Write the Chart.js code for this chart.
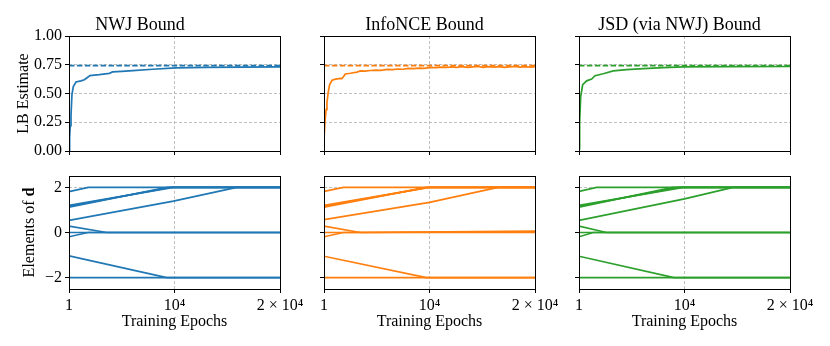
<!DOCTYPE html>
<html>
<head>
<meta charset="utf-8">
<script src="https://cdn.jsdelivr.net/npm/chart.js@4.4.1/dist/chart.umd.min.js"></script>
<style>
  html, body { margin: 0; padding: 0; background: #fff; }
  #wrap { position: relative; width: 830px; height: 346px; }
  #wrap canvas { position: absolute; left: 0; top: 0; }
</style>
</head>
<body>
<div id="wrap">
  <canvas id="top0" width="830" height="346"></canvas>
  <canvas id="top1" width="830" height="346"></canvas>
  <canvas id="top2" width="830" height="346"></canvas>
  <canvas id="bot0" width="830" height="346"></canvas>
  <canvas id="bot1" width="830" height="346"></canvas>
  <canvas id="bot2" width="830" height="346"></canvas>
</div>
<script>
// ---- data ----
const panelTitles = ["NWJ Bound", "InfoNCE Bound", "JSD (via NWJ) Bound"];
const panelColors = ["#1f77b4", "#ff7f0e", "#2ca02c"];

const xTicks = [1, 10000, 20000];
const xTickLabels = ["1", "10⁴", "2 × 10⁴"];
const lbTicks = [0, 0.25, 0.5, 0.75, 1.0];
const lbTickLabels = ["0.00", "0.25", "0.50", "0.75", "1.00"];
const dTicks = [-2, 0, 2];
const dTickLabels = ["−2", "0", "2"];

const trueMI = 0.743;

const nwjEpochs = [1, 60, 120, 190, 280, 410, 660, 1140, 1450, 1680, 1990, 2400, 2870, 3820, 4130, 5000, 6040, 7930, 10140, 13000, 16500, 20000];
const nwjLB = [0.0, 0.12, 0.22, 0.31, 0.49, 0.56, 0.60, 0.61, 0.62, 0.635, 0.655, 0.66, 0.664, 0.675, 0.688, 0.693, 0.699, 0.711, 0.722, 0.727, 0.730, 0.731];

const infoEpochs = [1, 100, 200, 280, 400, 530, 760, 1100, 1550, 1700,
  1860, 2020, 2500, 3130, 3440, 3900, 4400, 4900, 5400, 6000,
  6500, 7000, 7500, 8000, 8500, 9000, 9500, 10100, 10600, 11100,
  11600, 12100, 12600, 13100, 13600, 14100, 14600, 15100, 15600, 16100,
  16600, 17100, 17600, 18100, 18600, 19100, 19600, 20000];
const infoLB = [0.11, 0.26, 0.36, 0.42, 0.51, 0.576, 0.615, 0.625, 0.632, 0.630,
  0.648, 0.670, 0.676, 0.686, 0.697, 0.694, 0.700, 0.703, 0.701, 0.709,
  0.707, 0.713, 0.711, 0.718, 0.716, 0.721, 0.719, 0.727, 0.724, 0.730,
  0.726, 0.732, 0.728, 0.733, 0.727, 0.731, 0.735, 0.728, 0.733, 0.729,
  0.734, 0.728, 0.732, 0.735, 0.729, 0.733, 0.730, 0.734];

const jsdEpochs = [1, 60, 160, 350, 730, 1200, 1520, 2300, 3250, 4500, 6100, 8000, 9900, 14000, 20000];
const jsdLB = [0.02, 0.25, 0.47, 0.576, 0.61, 0.626, 0.655, 0.672, 0.696, 0.707, 0.717, 0.725, 0.731, 0.734, 0.735];

// elements of d: one breakpoint list per element
const nwjDEpochs = [[1, 1830, 20000], [1, 9300, 20000], [1, 9600, 20000], [1, 9900, 20000],
  [1, 9900, 15900, 20000], [1, 3570, 20000], [1, 1800, 20000], [1, 20000], [1, 9260, 20000], [1, 20000]];
const nwjDValues = [[1.81, 2, 2], [1.12, 2, 2], [1.16, 2, 2], [1.20, 2, 2],
  [0.54, 1.39, 2, 2], [0.28, 0, 0], [-0.19, 0, 0], [0, 0], [-1.03, -2, -2], [-2, -2]];

const infoDEpochs = [[1, 1850, 20000], [1, 9700, 20000], [1, 9850, 20000], [1, 10000, 20000],
  [1, 10000, 16500, 20000], [1, 3430, 20000], [1, 1850, 20000], [1, 20000], [1, 9700, 20000], [1, 20000]];
const infoDValues = [[1.82, 2, 2], [1.12, 2, 2], [1.16, 2, 2], [1.20, 2, 2],
  [0.57, 1.33, 2, 2], [0.28, 0, 0.06], [-0.19, 0, 0.03], [0, 0], [-1.05, -2, -2], [-2, -2]];

const jsdDEpochs = [[1, 1670, 20000], [1, 8900, 20000], [1, 9400, 20000], [1, 9900, 20000],
  [1, 10000, 14600, 20000], [1, 2600, 20000], [1, 1350, 20000], [1, 20000], [1, 9000, 20000], [1, 20000]];
const jsdDValues = [[1.82, 2, 2], [1.12, 2, 2], [1.16, 2, 2], [1.20, 2, 2],
  [0.54, 1.49, 2, 2], [0.28, 0, 0], [-0.19, 0, 0], [0, 0], [-1.05, -2, -2], [-2, -2]];

// ---- layout ----
const W = 830, H = 346;
const plotLeft = [69, 324, 579];
const plotRight = [280, 535, 790];
const rowTop = [36, 176];
const rowBottom = [151, 289];
const FONT = "'Liberation Serif', 'DejaVu Serif', serif";

Chart.defaults.font.family = FONT;
Chart.defaults.font.size = 16;
Chart.defaults.color = "#000";

// matplotlib style box round the axes
const framePlugin = {
  id: "frame",
  afterDatasetsDraw(chart) {
    const { ctx, chartArea: a } = chart;
    ctx.save();
    ctx.strokeStyle = "#000";
    ctx.lineWidth = 1;
    ctx.strokeRect(Math.round(a.left) + 0.5, Math.round(a.top) + 0.5,
      Math.round(a.right - a.left), Math.round(a.bottom - a.top));
    ctx.restore();
  }
};

// "Elements of d" with a bold d
const dLabelPlugin = {
  id: "dLabel",
  afterDraw(chart, args, opts) {
    if (!opts.show) return;
    const { ctx, chartArea: a } = chart;
    const normal = "16px " + FONT, bold = "bold 16px " + FONT;
    ctx.save();
    ctx.font = normal;
    const w1 = ctx.measureText("Elements of ").width;
    ctx.font = bold;
    const w2 = ctx.measureText("d").width;
    ctx.translate(opts.x, (a.top + a.bottom) / 2);
    ctx.rotate(-Math.PI / 2);
    ctx.textBaseline = "middle";
    ctx.textAlign = "left";
    ctx.fillStyle = "#000";
    const start = -(w1 + w2) / 2;
    ctx.font = normal;
    ctx.fillText("Elements of ", start, 0);
    ctx.font = bold;
    ctx.fillText("d", start + w1, 0);
    ctx.restore();
  }
};

const toPoints = (xs, ys) => xs.map((x, i) => ({ x, y: ys[i] }));

function makeChart(id, row, col, datasets, yMin, yMax, yTicks, yLabels) {
  const xH = row === 0 ? 10 : 45;
  const yW = col === 0 ? plotLeft[0] : 10;
  const titleH = row === 0 ? 36 : 0;
  const grid = {
    color: "#b0b0b0",
    lineWidth: 0.8,
    borderDash: [3, 2],
    tickColor: "#000",
    tickWidth: 1,
    tickLength: 4,
    tickBorderDash: []
  };
  return new Chart(document.getElementById(id), {
    type: "line",
    data: { datasets },
    plugins: [framePlugin, dLabelPlugin],
    options: {
      responsive: false,
      animation: false,
      layout: {
        autoPadding: false,
        padding: {
          left: plotLeft[col] - yW,
          right: W - plotRight[col],
          top: rowTop[row] - titleH,
          bottom: H - rowBottom[row] - xH
        }
      },
      elements: {
        point: { radius: 0 },
        line: { borderWidth: 1.7, tension: 0 }
      },
      scales: {
        x: {
          type: "linear",
          min: 1,
          max: 20000,
          afterBuildTicks: (s) => { s.ticks = xTicks.map((v) => ({ value: v })); },
          afterFit: (s) => { s.height = xH; },
          ticks: {
            display: row === 1,
            maxRotation: 0,
            autoSkip: false,
            padding: 3,
            callback: (v, i) => xTickLabels[i]
          },
          grid,
          border: { display: false, dash: [3, 2] },
          title: { display: row === 1, text: "Training Epochs", padding: { top: 0, bottom: 3 } }
        },
        y: {
          type: "linear",
          min: yMin,
          max: yMax,
          afterBuildTicks: (s) => { s.ticks = yTicks.map((v) => ({ value: v })); },
          afterFit: (s) => { s.width = yW; },
          ticks: {
            display: col === 0,
            padding: 3,
            callback: (v, i) => yLabels[i]
          },
          grid,
          border: { display: false, dash: [3, 2] },
          title: { display: row === 0 && col === 0, text: "LB Estimate", padding: { top: 14, bottom: 0 } }
        }
      },
      plugins: {
        legend: { display: false },
        tooltip: { enabled: false },
        title: {
          display: row === 0,
          text: panelTitles[col],
          color: "#000",
          font: { size: 18, weight: "normal" },
          padding: { top: 14, bottom: 0.4 }
        },
        dLabel: { show: row === 1 && col === 0, x: 30 }
      }
    }
  });
}

const lbSeries = [[nwjEpochs, nwjLB], [infoEpochs, infoLB], [jsdEpochs, jsdLB]];
const dSeries = [[nwjDEpochs, nwjDValues], [infoDEpochs, infoDValues], [jsdDEpochs, jsdDValues]];

lbSeries.forEach(([ep, lb], col) => {
  const color = panelColors[col];
  makeChart("top" + col, 0, col, [
    { data: toPoints(ep, lb), borderColor: color },
    { data: toPoints([1, 20000], [trueMI, trueMI]), borderColor: color, borderDash: [5.5, 2.4] }
  ], 0, 1, lbTicks, lbTickLabels);
});

dSeries.forEach(([eps, vals], col) => {
  const color = panelColors[col];
  const sets = eps.map((ep, k) => ({ data: toPoints(ep, vals[k]), borderColor: color }));
  makeChart("bot" + col, 1, col, sets, -2.5, 2.5, dTicks, dTickLabels);
});
</script>
</body>
</html>
